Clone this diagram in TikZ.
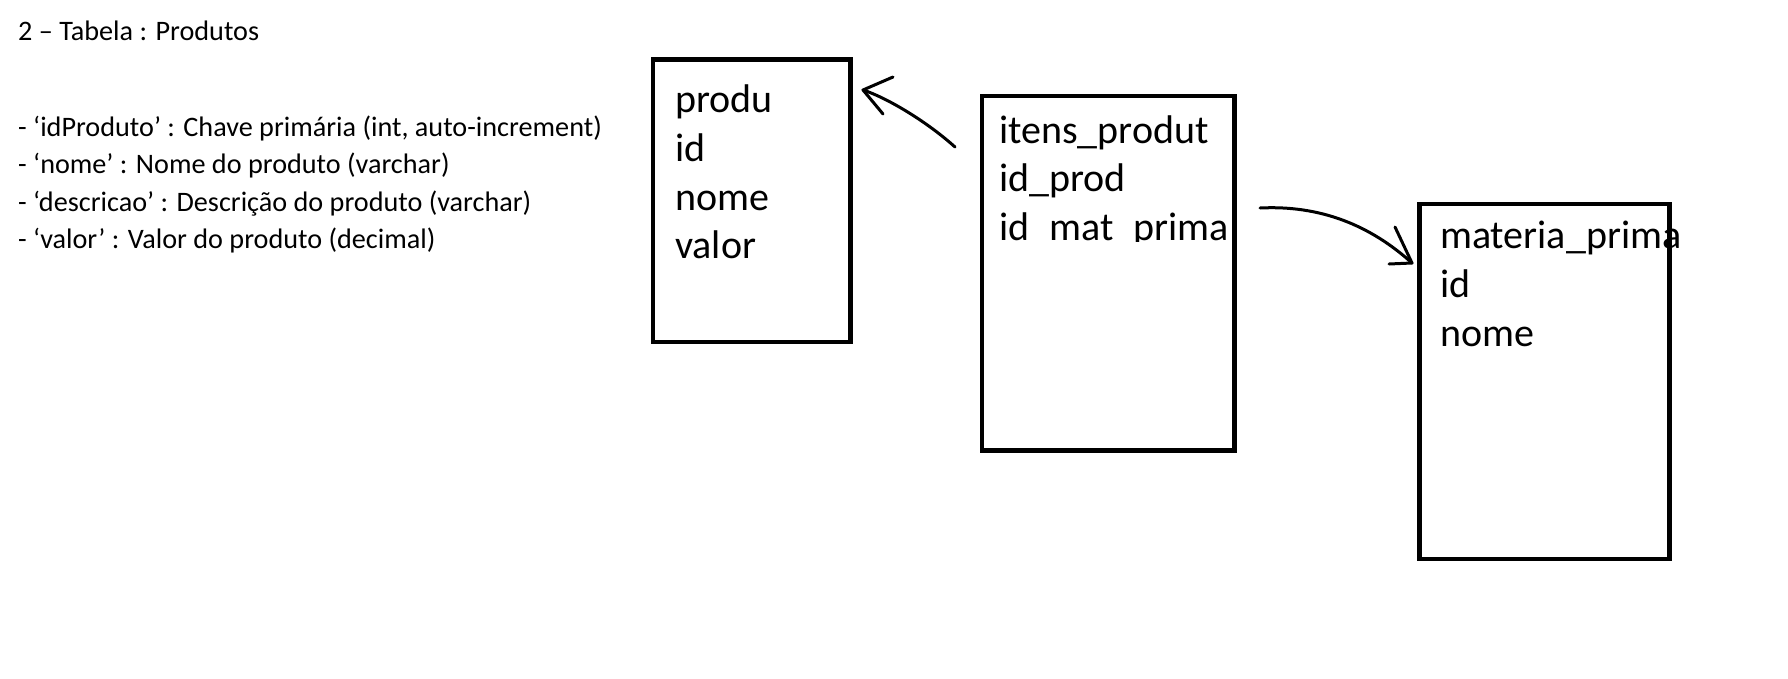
\documentclass[tikz,border=0pt]{standalone}
\usepackage{fontspec}
\setmainfont{Carlito}
\begin{document}
\begin{tikzpicture}[x=1pt,y=-1pt,
  tbl/.style={draw, line width=4.5pt, rectangle, inner sep=0pt, outer sep=0pt, anchor=north west},
  field/.style={font=\fontsize{40}{48}\selectfont, anchor=base west, inner sep=0pt},
  note/.style={font=\fontsize{28.2}{34}\selectfont, anchor=base west, inner sep=0pt},
  link/.style={line width=3pt, line cap=round, line join=round}]
\useasboundingbox[fill=white] (0,0) rectangle (1788,678);
% left text
\node[note] (title) at (18,40) {2 – Tabela : Produtos};
\node[note] (l1) at (18,136) {- ‘idProduto’ : Chave primária (int, auto-increment)};
\node[note] (l2) at (18,173.6) {- ‘nome’ : Nome do produto (varchar)};
\node[note] (l3) at (18,211.2) {- ‘descricao’ : Descrição do produto (varchar)};
\node[note] (l4) at (18,248.8) {- ‘valor’ : Valor do produto (decimal)};
% tables
\node[tbl, minimum width=197.3pt, minimum height=282.7pt] (prod) at (653.2,59.5) {};
\node[tbl, minimum width=252.3pt, minimum height=354.3pt] (itens) at (982.2,96.2) {};
\node[tbl, minimum width=250pt, minimum height=354.8pt] (mat) at (1419.5,204) {};
% fields
\node[field] (p1) at (675,112) {produ};
\node[field] (p2) at (675,161) {id};
\node[field] (p3) at (675,210) {nome};
\node[field] (p4) at (675,258) {valor};
\node[field] (i1) at (999,143) {itens\_produt};
\node[field] (i2) at (999,191.5) {id\_prod};
\begin{scope}
\clip (995,150) rectangle (1231,241.5);
\node[field] (i3) at (999,240) {id\_mat\_prima};
\end{scope}
\node[field] (m1) at (1440,248) {materia\_prima};
\node[field] (m2) at (1440,297) {id};
\node[field] (m3) at (1440,346) {nome};
% arrows
\coordinate (a1s) at (955,147);
\coordinate (a1t) at (863,90);
\coordinate (a1u) at (893,77);
\coordinate (a1d) at (883,114);
\draw[link] (a1s) .. controls (925,120) and (885,97) .. (a1t);
\draw[link] (a1u) -- (a1t) -- (a1d);
\coordinate (a2s) at (1260,208);
\coordinate (a2t) at (1412,263);
\coordinate (a2u) at (1395,227);
\coordinate (a2d) at (1389,264);
\draw[link] (a2s) .. controls (1320,205) and (1370,225) .. (a2t);
\draw[link] (a2u) -- (a2t) -- (a2d);
\end{tikzpicture}
\end{document}
